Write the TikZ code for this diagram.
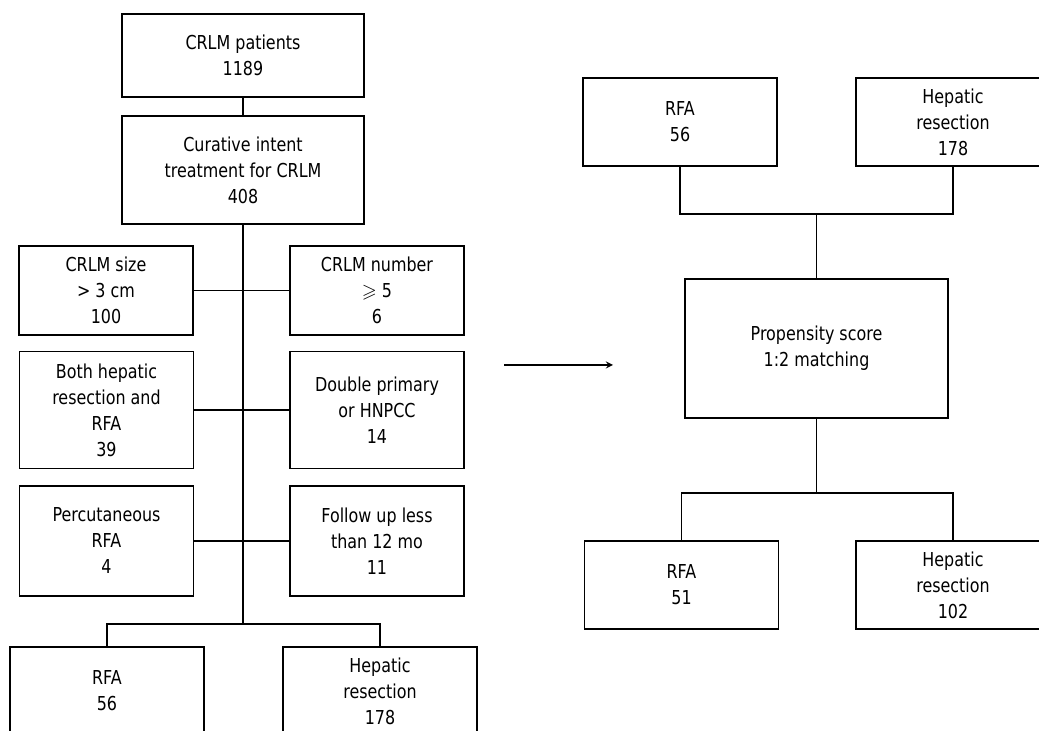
\documentclass[tikz,border=0pt]{standalone}
\usepackage{amssymb}
\usepackage{fontspec}
\setmainfont{DejaVu Sans}[FakeStretch=0.83]
\begin{document}
\begin{tikzpicture}[x=0.5pt,y=-0.5pt,line width=0.6pt,
    box/.style={draw,align=center,inner sep=0pt,font=\fontsize{9.6}{13}\selectfont},
    exbox/.style={box,minimum width=87pt},
    grpbox/.style={box,minimum width=97pt,minimum height=44pt}]
          \useasboundingbox (0,0) rectangle (1039,731);
          \node[box,minimum width=121pt,minimum height=41.5pt] (pat) at (243,55.5) {CRLM patients\\1189};
          \node[box,minimum width=121pt,minimum height=54pt] (cur) at (243,170) {Curative intent\\treatment for CRLM\\408};
          \coordinate (trunk) at (243,624);
          \node[exbox,minimum height=44.5pt] (size) at (106,290.5) {CRLM size\\> 3 cm\\100};
          \node[exbox,minimum height=44.5pt] (num) at (377,290.5) {CRLM number\\$\geqslant$ 5\\6};
          \node[exbox,minimum height=58.5pt] (both) at (106.5,410) {Both hepatic\\resection and\\RFA\\39};
          \node[exbox,minimum height=58.5pt] (dbl) at (377,410) {Double primary\\or HNPCC\\14};
          \node[exbox,minimum height=55pt] (perc) at (106.5,541) {Percutaneous\\RFA\\4};
          \node[exbox,minimum height=55pt] (fol) at (377,541) {Follow up less\\than 12 mo\\11};
          \node[grpbox] (rfaL) at (107,691) {RFA\\56};
          \node[grpbox] (hepL) at (380,691) {Hepatic\\resection\\178};
          \node[grpbox] (rfaA) at (680,122) {RFA\\56};
          \node[grpbox] (hepA) at (953,122) {Hepatic\\resection\\178};
          \coordinate (jA) at (816.5,214);
          \node[box,minimum width=131.5pt,minimum height=69.5pt] (prop) at (816.5,348.5) {Propensity score\\1:2 matching};
          \coordinate (jB) at (816.5,493);
          \node[grpbox] (rfaB) at (681.5,585) {RFA\\51};
          \node[grpbox] (hepB) at (953,585) {Hepatic\\resection\\102};
          \coordinate (arrS) at (504,365);
          \coordinate (arrE) at (613,365);
          \draw (pat.south) -- (cur.north);
          \draw (cur.south) -- (trunk);
          \draw (size) -- (num);
          \draw (both) -- (dbl);
          \draw (perc) -- (fol);
          \draw (rfaL.north) |- (trunk) -| (hepL.north);
          \draw (rfaA.south) |- (jA) -| (hepA.south);
          \draw (jA) -- (prop.north);
          \draw (prop.south) -- (jB);
          \draw (rfaB.north) |- (jB) -| (hepB.north);
          \draw[-stealth] (arrS) -- (arrE);
        \end{tikzpicture}
\end{document}
